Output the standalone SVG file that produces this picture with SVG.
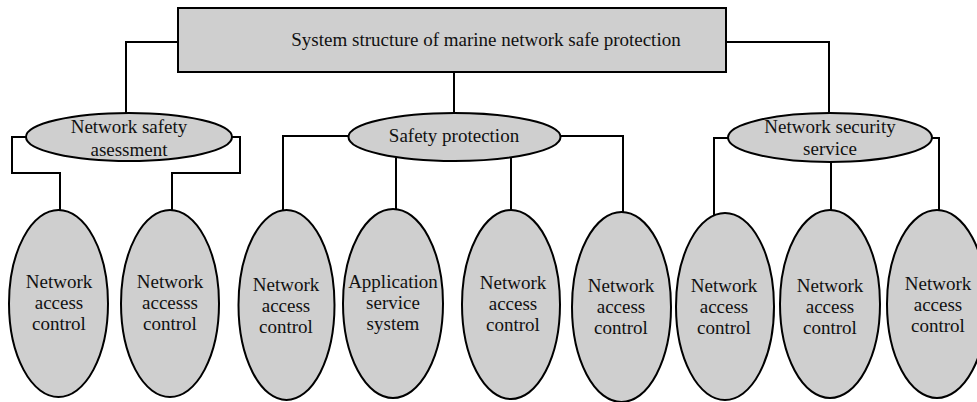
<svg xmlns="http://www.w3.org/2000/svg" width="977" height="402" viewBox="0 0 977 402" font-family="'Liberation Serif', 'Times New Roman', 'DejaVu Serif', serif" font-size="19">
<style>
.n{fill:#cfcfcf;stroke:#000;stroke-width:2}
.c{fill:none;stroke:#000;stroke-width:2}
.t{font-family:'Liberation Serif','Times New Roman','DejaVu Serif',serif;font-size:19px;fill:#111;text-anchor:middle}
</style>
<rect width="977" height="402" fill="#fff"/>
<g id="connectors">
<path class="c" d="M178,42 H126 V115"/>
<path class="c" d="M454,72 V115"/>
<path class="c" d="M726,42 H829 V115"/>
<path class="c" d="M28,137 H12 V173 H60 V212"/>
<path class="c" d="M230,137 H240 V173 H172 V212"/>
<path class="c" d="M350,136 H283 V212"/>
<path class="c" d="M396,158 V212"/>
<path class="c" d="M511,158 V212"/>
<path class="c" d="M559,136 H623 V214"/>
<path class="c" d="M730,138 H714 V215"/>
<path class="c" d="M831,158 V212"/>
<path class="c" d="M930,138 H939 V212"/>
</g>
<g id="root" class="t">
<rect class="n" x="178" y="8" width="548" height="64"/>
<text x="486" y="46">System structure of marine network safe protection</text>
</g>
<g id="nsa" class="t">
<ellipse class="n" cx="129" cy="137" rx="103" ry="24"/>
<text x="129" y="133">Network safety</text>
<text x="129" y="156">asessment</text>
</g>
<g id="sp" class="t">
<ellipse class="n" cx="454.5" cy="137" rx="106" ry="24"/>
<text x="454" y="142">Safety protection</text>
</g>
<g id="nss" class="t">
<ellipse class="n" cx="830" cy="137.5" rx="102" ry="24.5"/>
<text x="830" y="133">Network security</text>
<text x="830" y="155">service</text>
</g>
<g id="c1" class="t">
<ellipse class="n" cx="58.5" cy="303.5" rx="49.5" ry="93.5"/>
<text x="59" y="288">Network</text><text x="59" y="309">access</text><text x="59" y="330">control</text>
</g>
<g id="c2" class="t">
<ellipse class="n" cx="170" cy="303.5" rx="49" ry="93.5"/>
<text x="170" y="288">Network</text><text x="170" y="309">accesss</text><text x="170" y="330">control</text>
</g>
<g id="c3" class="t">
<ellipse class="n" cx="286.5" cy="305" rx="48" ry="95"/>
<text x="286" y="291">Network</text><text x="286" y="312">access</text><text x="286" y="333">control</text>
</g>
<g id="c4" class="t">
<ellipse class="n" cx="393" cy="303.5" rx="50" ry="94.5"/>
<text x="393" y="288">Application</text><text x="393" y="309">service</text><text x="393" y="330">system</text>
</g>
<g id="c5" class="t">
<ellipse class="n" cx="511" cy="304.5" rx="49" ry="94.5"/>
<text x="513" y="289">Network</text><text x="513" y="310">access</text><text x="513" y="331">control</text>
</g>
<g id="c6" class="t">
<ellipse class="n" cx="621.5" cy="307" rx="49.5" ry="95"/>
<text x="621" y="292">Network</text><text x="621" y="313">access</text><text x="621" y="334">control</text>
</g>
<g id="c7" class="t">
<ellipse class="n" cx="725" cy="306.5" rx="49" ry="93.5"/>
<text x="724" y="292">Network</text><text x="724" y="313">access</text><text x="724" y="334">control</text>
</g>
<g id="c8" class="t">
<ellipse class="n" cx="830" cy="304" rx="50" ry="94"/>
<text x="830" y="292">Network</text><text x="830" y="313">access</text><text x="830" y="334">control</text>
</g>
<g id="c9" class="t">
<ellipse class="n" cx="937" cy="304" rx="50" ry="94"/>
<text x="938" y="290">Network</text><text x="938" y="311">access</text><text x="938" y="332">control</text>
</g>
</svg>
